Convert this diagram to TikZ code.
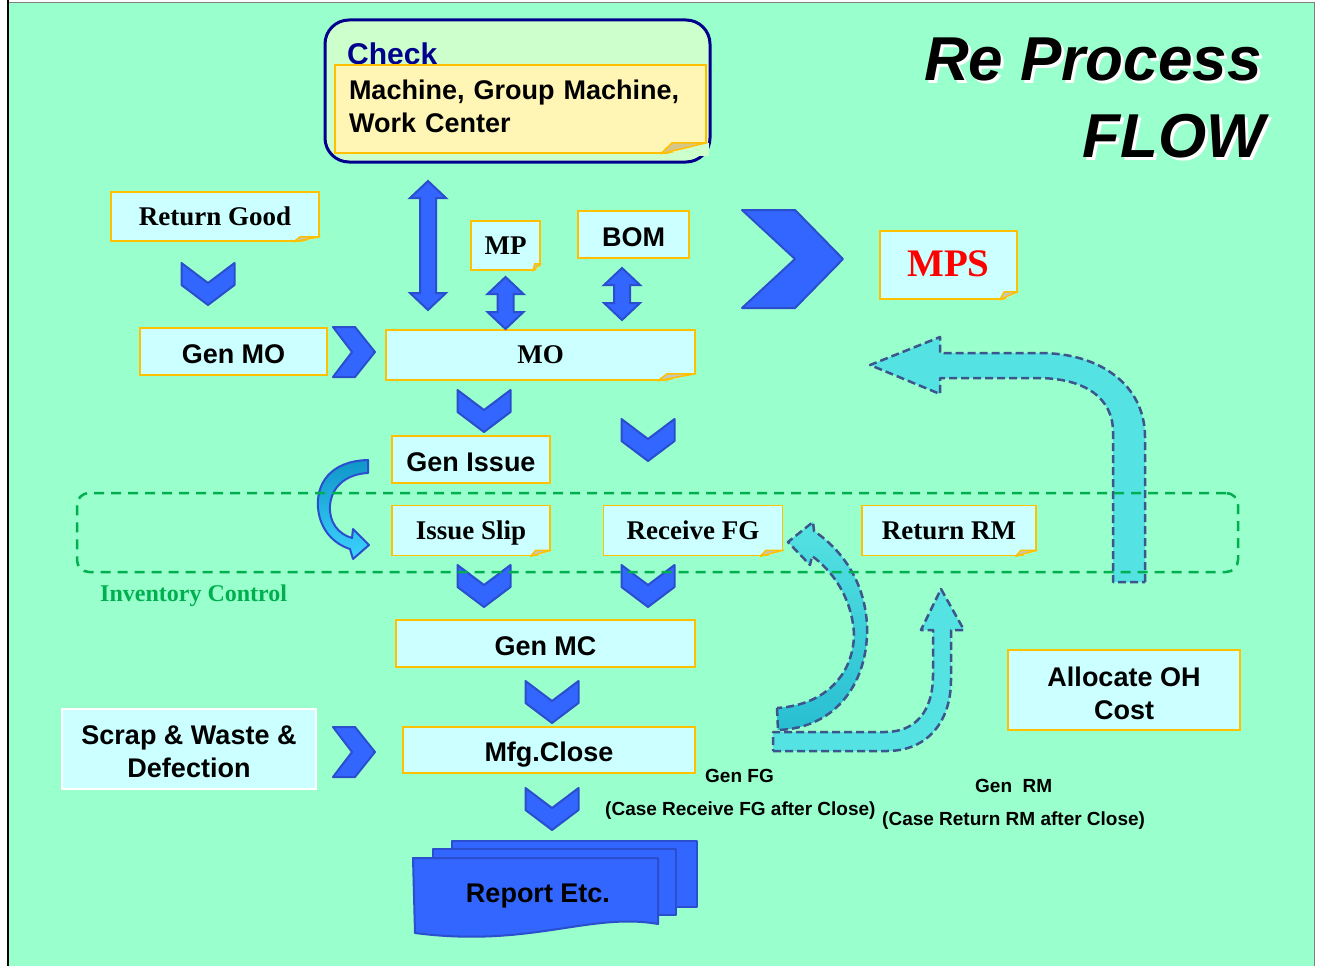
\documentclass[tikz,border=0pt]{standalone}
\usepackage{fontspec}
\setmainfont{Liberation Serif}
\setsansfont{Liberation Sans}
\usetikzlibrary{positioning, calc}

\definecolor{slide}{RGB}{153,255,204}
\definecolor{paleblue}{RGB}{204,255,255}
\definecolor{gold}{RGB}{255,192,0}
\definecolor{chevblue}{RGB}{51,102,255}
\definecolor{chevedge}{RGB}{42,78,205}
\definecolor{navy}{RGB}{0,0,140}
\definecolor{checkgreen}{RGB}{204,255,204}
\definecolor{noteyellow}{RGB}{255,245,180}
\definecolor{foldgrey}{RGB}{200,200,185}
\definecolor{foldtan}{RGB}{215,198,140}
\definecolor{invgreen}{RGB}{0,176,80}
\definecolor{flowcyan}{RGB}{85,226,226}
\definecolor{flowdark}{RGB}{40,190,210}
\definecolor{flowedge}{RGB}{60,85,140}
\definecolor{curlteal}{RGB}{15,150,200}
\definecolor{curllight}{RGB}{60,210,255}

\tikzset{
  box/.style={draw=gold, fill=paleblue, line width=1.5, inner sep=0pt, align=center,
    font=\sffamily\bfseries\fontsize{27}{33}\selectfont},
  sbox/.style={box, font=\rmfamily\bfseries\fontsize{27}{33}\selectfont},
  sline/.style={text height=23.3pt, text depth=0pt},
  rline/.style={text height=17.9pt, text depth=0pt},
  chev/.style={fill=chevblue, draw=chevedge, line width=2, line join=round},
  fat/.style={fill=chevblue, draw=chevedge, line width=2, line join=miter},
  flow/.style={fill=flowcyan, draw=flowedge, line width=2.5, dash pattern=on 8pt off 4pt, line join=round},
  lbl/.style={inner sep=0pt, anchor=base west, font=\sffamily\bfseries\fontsize{19}{23}\selectfont},
  title/.style={inner sep=0pt, anchor=base east, font=\sffamily\bfseries\itshape\fontsize{62}{70}\selectfont},
  chevdown/.pic={\filldraw[chev] (-26.5,-21) -- (0,-1) -- (26.5,-21) -- (26.5,1) -- (0,21) -- (-26.5,1) -- cycle;},
  chevright/.pic={\filldraw[chev] (-21,-25) -- (1,-25) -- (21,0) -- (1,25) -- (-21,25) -- (-2,0) -- cycle;},
}

% folded corner: node, width, height, fold colour, colour behind
\newcommand\fold[5]{%
  \fill[#5] ([shift={(-#2,2)}]#1.south east) -- ([shift={(2,2)}]#1.south east) -- ([shift={(2,-#3)}]#1.south east) -- cycle;
  \filldraw[fill=#4, draw=gold, line width=1.5, line join=round] ([shift={(-#2,0)}]#1.south east) -- ([shift={(-0.75*#2,-#3)}]#1.south east) -- ([shift={(0,-#3)}]#1.south east) -- cycle;
}
% vertical double block arrow: x, top, bottom
\newcommand\updown[3]{%
  \filldraw[fat] (#1-8,#2+17) -- (#1-18,#2+17) -- (#1,#2) -- (#1+18,#2+17) -- (#1+8,#2+17) -- (#1+8,#3-17) -- (#1+18,#3-17) -- (#1,#3) -- (#1-18,#3-17) -- (#1-8,#3-17) -- cycle;
}
% lower a line a little, keeping its size
\newcommand\low[1]{\raisebox{-3pt}[\height][\depth]{#1}}

\begin{document}
\begin{tikzpicture}[x=1pt, y=-1pt]
\useasboundingbox (0,0) rectangle (1322,966);
\fill[white] (0,0) rectangle (1322,966);
\fill[slide] (8,3) rectangle (1314,966);
\draw[gray, line width=1] (8,3) -- (1314,3) -- (1314,966);
\draw[black, line width=1.5] (8,0) -- (8,966);

% title
\node[title, text=white] at (1265,84) {Re Process};
\node[title] (retitle) at (1262,81) {Re Process};
\node[title, text=white] at (1268,160) {FLOW};
\node[title] (flowtitle) at (1265,157) {FLOW};

% check
\node[draw=navy, fill=checkgreen, line width=3, rounded corners=24, minimum width=385, minimum height=142] (check) at (517.5,91) {};
\node[inner sep=0pt, anchor=base west, text=navy, font=\sffamily\bfseries\fontsize{30}{36}\selectfont] (checklbl) at (347,64) {Check};
\node[draw=gold, fill=noteyellow, line width=1.5, minimum width=371, minimum height=88] (checknote) at (520.5,109) {};
\node[text width=343, align=left, inner sep=0pt, font=\sffamily\bfseries\fontsize{27}{33}\selectfont] (checktext) at (520.5,106) {Machine, Group Machine,\\Work Center};
\fold{checknote}{46}{11}{foldtan}{checkgreen}

% boxes
\node[sbox, rline, minimum width=208, minimum height=49] (retgood) at (215,216.5) {Return Good};
\node[box, sline, minimum width=187, minimum height=47] (genmo) at (233.5,351.5) {Gen MO};
\node[sbox, rline, minimum width=309, minimum height=50] (mo) at (540.5,355) {MO};
\node[sbox, rline, minimum width=69, minimum height=49] (mp) at (505.5,245.5) {MP};
\node[box, sline, minimum width=111, minimum height=47] (bom) at (633.5,234.5) {BOM};
\node[sbox, minimum width=137, minimum height=68, text=red, text height=22.8pt, text depth=0pt,
  font=\rmfamily\bfseries\fontsize{39}{44}\selectfont] (mps) at (948.5,265) {MPS};
\node[box, sline, minimum width=158, minimum height=47] (genissue) at (471,459.5) {Gen Issue};
\node[sbox, rline, minimum width=158, minimum height=50, below=21pt of genissue] (issueslip) {Issue Slip};
\node[sbox, rline, minimum width=179, minimum height=50, right=52pt of issueslip] (recfg) {Receive FG};
\node[sbox, rline, minimum width=174, minimum height=50, right=78pt of recfg] (retrm) {Return RM};
\node[box, sline, minimum width=299, minimum height=47] (genmc) at (545.5,643.5) {Gen MC};
\node[box, sline, minimum width=292, minimum height=46] (mfgclose) at (549,750) {Mfg.Close};
\node[box, draw=white, minimum width=254, minimum height=80] (scrap) at (189,749) {\low{Scrap \& Waste \&}\\\low{Defection}};
\node[box, minimum width=232, minimum height=80] (alloc) at (1124,690) {\low{Allocate OH}\\\low{Cost}};

\fold{retgood}{26}{5}{foldgrey}{slide}
\fold{mo}{38}{7}{foldgrey}{slide}
\fold{mp}{8}{7}{foldgrey}{slide}
\fold{mps}{18}{8}{foldgrey}{slide}
\fold{issueslip}{20}{6}{foldgrey}{slide}
\fold{recfg}{23}{6}{foldgrey}{slide}
\fold{retrm}{21}{6}{foldgrey}{slide}

% chevrons
\pic at (208,284) {chevdown};
\pic at (484,411) {chevdown};
\pic at (648,440) {chevdown};
\pic at (484,586) {chevdown};
\pic at (648,586) {chevdown};
\pic at (552,702) {chevdown};
\pic at (552,809) {chevdown};
\pic at (354,352) {chevright};
\pic at (354,752) {chevright};
\filldraw[chev] (742,210) -- (795,210) -- (843,259) -- (795,308) -- (742,308) -- (795,259) -- cycle;

% double arrows
\updown{428}{181}{310}
\updown{505.5}{277}{329}
\updown{622}{268}{320}

% curl beside gen issue
\path[top color=curlteal, bottom color=curllight, draw=chevedge, line width=2, line join=round]
  (368,460) .. controls (330,461) and (316,484) .. (318,508) .. controls (320,530) and (334,544) .. (350,549)
  -- (353,559) -- (369,545) -- (353,529) -- (352,538) .. controls (338,534) and (329,522) .. (330,506)
  .. controls (331,488) and (345,474) .. (368,473) -- cycle;

% back to mps
\filldraw[flow] (1145,582) -- (1145,437) .. controls (1145,385) and (1100,353) .. (1040,353) -- (940,353) -- (940,337)
  -- (870,365) -- (940,394) -- (940,378) -- (1037,378) .. controls (1085,378) and (1113,398) .. (1113,432) -- (1113,582) -- cycle;

% gen fg
\path[flow, top color=flowcyan, bottom color=flowdark] (777,708) -- (778,730) .. controls (838,728) and (869,680) .. (867,625)
  .. controls (865,585) and (845,552) .. (814,531) -- (813,522) -- (788,542) -- (810,565) -- (812,556)
  .. controls (838,575) and (853,605) .. (854,635) .. controls (853,675) and (825,705) .. (777,708) -- cycle;

% gen rm
\filldraw[flow] (773,751) -- (887,751) .. controls (927,751) and (951,722) .. (951,680) -- (951,630) -- (964,630) -- (941,589)
  -- (921,630) -- (933,630) -- (933,675) .. controls (933,712) and (915,732) .. (885,732) -- (773,732) -- cycle;

% report
\filldraw[chev] (452,841) rectangle (697,907);
\filldraw[chev] (433,849) rectangle (676,915);
\filldraw[chev] (413,858) -- (658,858) -- (658,924) .. controls (590,912) and (530,948) .. (415,933) -- cycle;
\node[text height=19.3pt, text depth=0pt, font=\sffamily\bfseries\fontsize{27}{33}\selectfont] (report) at (538,893) {Report Etc.};

% inventory control
\node[draw=invgreen, line width=2.5, dash pattern=on 10pt off 7pt, rounded corners=12, minimum width=1161, minimum height=79] (inv) at (657.5,532.5) {};
\node[inner sep=0pt, anchor=base west, text=invgreen, font=\rmfamily\bfseries\fontsize{24}{28}\selectfont] (invlbl) at (100,601) {Inventory Control};

% notes
\node[lbl] (genfg) at (705,782) {Gen FG};
\node[lbl] (casefg) at (605,815) {(Case Receive FG after Close)};
\node[lbl] (genrm) at (975,792) {Gen\ \ RM};
\node[lbl] (caserm) at (882,825) {(Case Return RM after Close)};
\end{tikzpicture}
\end{document}
